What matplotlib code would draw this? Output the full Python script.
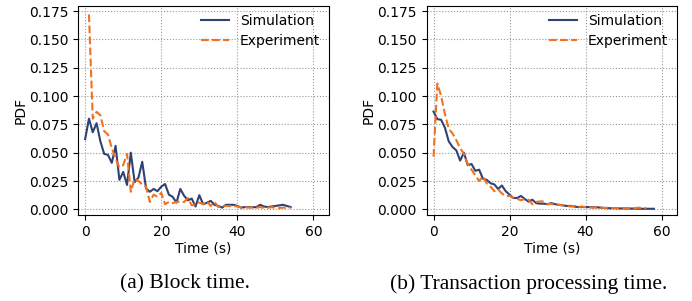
import matplotlib
matplotlib.use("Agg")
import matplotlib.pyplot as plt

# ---- data: (a) block time ----
a_sim_x = list(range(0, 55))
a_sim_y = [0.062, 0.080, 0.068, 0.076, 0.060, 0.049, 0.048, 0.041, 0.056, 0.026,
           0.033, 0.0215, 0.050, 0.024, 0.028, 0.042, 0.0185, 0.0155, 0.018, 0.016,
           0.020, 0.0224, 0.013, 0.011, 0.006, 0.018, 0.012, 0.008, 0.0095, 0.0025,
           0.0125, 0.0045, 0.0058, 0.0075, 0.004, 0.003, 0.0015, 0.004, 0.004, 0.004,
           0.003, 0.0015, 0.002, 0.002, 0.0018, 0.002, 0.004, 0.0025, 0.002, 0.0025,
           0.003, 0.0035, 0.004, 0.003, 0.002]
a_exp_x = list(range(1, 55))
a_exp_y = [0.172, 0.080, 0.086, 0.083, 0.069, 0.066, 0.054, 0.0445, 0.037, 0.039,
           0.049, 0.0155, 0.027, 0.025, 0.022, 0.020, 0.0065, 0.013, 0.011, 0.0145,
           0.0045, 0.0065, 0.0055, 0.0065, 0.007, 0.0065, 0.010, 0.0035, 0.0045, 0.006,
           0.0045, 0.007, 0.003, 0.0065, 0.002, 0.003, 0.003, 0.0028, 0.003, 0.0025,
           0.0015, 0.002, 0.0015, 0.0018, 0.0015, 0.002, 0.0012, 0.0015, 0.0018, 0.0015,
           0.0012, 0.0015, 0.0012, 0.0015]

# ---- data: (b) transaction processing time ----
b_sim_x = list(range(0, 59))
b_sim_y = [0.0863, 0.0796, 0.079, 0.072, 0.060, 0.055, 0.052, 0.043, 0.050, 0.039,
           0.040, 0.034, 0.035, 0.027, 0.026, 0.023, 0.022, 0.018, 0.021, 0.016,
           0.013, 0.010, 0.010, 0.0118, 0.0092, 0.0068, 0.0085, 0.0055, 0.005, 0.005,
           0.0045, 0.0055, 0.0045, 0.004, 0.0035, 0.003, 0.003, 0.0025, 0.002, 0.002,
           0.002, 0.002, 0.0018, 0.0018, 0.0015, 0.0012, 0.001, 0.001, 0.001, 0.0008,
           0.0008, 0.0007, 0.0007, 0.0006, 0.0006, 0.0005, 0.0005, 0.0005, 0.0005]
b_exp_x = list(range(0, 57))
b_exp_y = [0.0465, 0.111, 0.100, 0.084, 0.071, 0.067, 0.061, 0.054, 0.049, 0.040,
           0.035, 0.030, 0.025, 0.029, 0.023, 0.020, 0.016, 0.0175, 0.014, 0.0115,
           0.012, 0.010, 0.0093, 0.008, 0.009, 0.0085, 0.0045, 0.0065, 0.007, 0.007,
           0.0045, 0.005, 0.0035, 0.004, 0.0035, 0.003, 0.0025, 0.003, 0.002, 0.0025,
           0.002, 0.0018, 0.0015, 0.0018, 0.0015, 0.0012, 0.0015, 0.0012, 0.001, 0.0012,
           0.001, 0.001, 0.0012, 0.001, 0.0015, 0.001, 0.001]

xticks = [0, 20, 40, 60]
yticks = [0.000, 0.025, 0.050, 0.075, 0.100, 0.125, 0.150, 0.175]
captions = ["(a) Block time.", "(b) Transaction processing time."]

SIM_C = "#2e4374"
EXP_C = "#f2711f"

W, H = 692, 301
fig = plt.figure(figsize=(W / 100, H / 100), dpi=100)

ax1 = fig.add_axes([78.3 / W, 1 - 215 / H, 250.4 / W, 209.3 / H])
ax2 = fig.add_axes([426.7 / W, 1 - 215 / H, 250.0 / W, 209.3 / H])

panels = [(ax1, a_sim_x, a_sim_y, a_exp_x, a_exp_y),
          (ax2, b_sim_x, b_sim_y, b_exp_x, b_exp_y)]
for ax, sx, sy, ex, ey in panels:
    ax.plot(sx, sy, color=SIM_C, lw=1.5, label="Simulation")
    ax.plot(ex, ey, color=EXP_C, lw=1.5, ls="--", label="Experiment")
    ax.set_xlim(-1.8, 64)
    ax.set_ylim(-0.005, 0.1797)
    ax.set_xticks(xticks)
    ax.set_yticks(yticks)
    ax.set_yticklabels([f"{v:.3f}" for v in yticks])
    ax.tick_params(labelsize=10)
    ax.grid(True, ls=":", color="#999999", lw=0.8)
    ax.set_xlabel("Time (s)", fontsize=10, labelpad=2)
    ax.set_ylabel("PDF", fontsize=10, labelpad=1)
    ax.legend(loc="upper right", frameon=False, fontsize=10,
              handlelength=2.0, borderaxespad=0.2, labelspacing=0.45)

fig.text(185 / W, 1 - 284 / H, captions[0], ha="center", va="center",
         family="Liberation Serif", fontsize=15.5)
fig.text(529 / W, 1 - 284 / H, captions[1], ha="center", va="center",
         family="Liberation Serif", fontsize=15.5)

fig.savefig("out.png", dpi=100)
